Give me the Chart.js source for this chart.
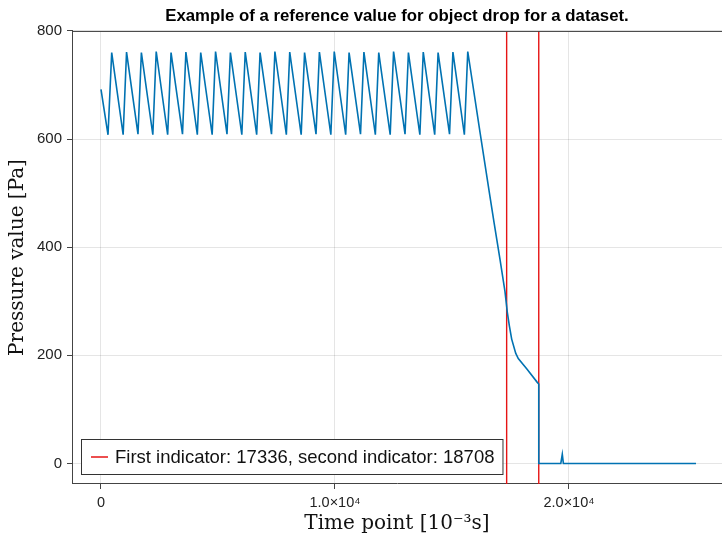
<!DOCTYPE html>
<html>
<head>
<meta charset="utf-8">
<script src="https://cdn.jsdelivr.net/npm/chart.js@4.4.1/dist/chart.umd.min.js"></script>
<style>
  html, body { margin: 0; padding: 0; background: #fff; }
  #wrap { width: 722px; height: 537px; }
</style>
</head>
<body>
<div id="wrap"><canvas id="chart" width="722" height="537"></canvas></div>
<script>
// time points [10^-3 s] and pressure values [Pa]
const timePoints = [
  0, 300, 458, 947, 1092, 1581, 1726, 2215, 2360, 2849, 2994, 3483, 3628,
  4117, 4262, 4751, 4896, 5385, 5530, 6019, 6164, 6653, 6798, 7287, 7432,
  7921, 8066, 8555, 8700, 9189, 9334, 9823, 9968, 10457, 10602, 11091, 11236,
  11725, 11870, 12359, 12504, 12993, 13138, 13627, 13772, 14261, 14406,
  14895, 15040, 15529, 15674,
  16200, 16600, 16800, 17050, 17265, 17363, 17450, 17551, 17722, 17833,
  18192, 18645, 18708, 18709, 19650, 19714, 19760, 25427
];
const pressure = [
  692, 608, 760, 608, 761, 609, 760, 608, 762, 608, 760, 609, 761,
  608, 760, 608, 762, 609, 760, 608, 761, 608, 760, 609, 762,
  608, 761, 608, 760, 609, 761, 608, 762, 608, 760, 609, 761,
  608, 760, 608, 762, 609, 760, 608, 761, 608, 760,
  609, 761, 608, 762,
  612, 500, 445, 378, 318, 280, 255, 230, 204, 194,
  175, 150, 147, 0, 0, 17, 0, 0
];
const firstIndicator = 17336;
const secondIndicator = 18708;
const xTicks = [0, 10000, 20000];
const xTickLabels = ['0', '1.0×10⁴', '2.0×10⁴'];
const yTicks = [0, 200, 400, 600, 800];
const xRange = [-1239, 26539];
const yRange = [-38, 800];

const legendText = `First indicator: ${firstIndicator}, second indicator: ${secondIndicator}`;

const series = timePoints.map((t, i) => ({ x: t, y: pressure[i] }));
const vline = (v) => [{ x: v, y: yRange[0] }, { x: v, y: yRange[1] }];

const framePlugin = {
  id: 'frame',
  afterDraw(chart) {
    const { ctx, chartArea: a } = chart;
    ctx.save();
    ctx.strokeStyle = '#444';
    ctx.lineWidth = 1;
    ctx.beginPath();
    ctx.moveTo(a.left, a.top + 0.5);
    ctx.lineTo(a.right, a.top + 0.5);
    ctx.stroke();

    // legend box, lower left
    ctx.font = '18.5px "Liberation Sans", Arial, sans-serif';
    const tw = ctx.measureText(legendText).width;
    const x0 = a.left + 9, y1 = a.bottom - 10;
    const h = 35, w = tw + 42;
    const y0 = y1 - h;
    ctx.fillStyle = '#fff';
    ctx.fillRect(x0, y0, w, h);
    ctx.strokeStyle = '#333';
    ctx.strokeRect(x0 + 0.5, y0 + 0.5, w, h);
    ctx.strokeStyle = 'rgb(230,20,20)';
    ctx.lineWidth = 1.5;
    ctx.beginPath();
    ctx.moveTo(x0 + 10, y0 + h / 2 + 0.5);
    ctx.lineTo(x0 + 27, y0 + h / 2 + 0.5);
    ctx.stroke();
    ctx.fillStyle = '#111';
    ctx.textBaseline = 'middle';
    ctx.fillText(legendText, x0 + 34, y0 + h / 2 + 1);
    ctx.restore();
  }
};

new Chart(document.getElementById('chart'), {
  type: 'line',
  data: {
    datasets: [
      {
        data: series,
        borderColor: 'rgb(0,114,178)',
        borderWidth: 1.6,
        pointRadius: 0,
        tension: 0,
      },
      {
        data: vline(firstIndicator),
        borderColor: 'rgb(230,20,20)',
        borderWidth: 1.4,
        pointRadius: 0,
      },
      {
        data: vline(secondIndicator),
        borderColor: 'rgb(230,20,20)',
        borderWidth: 1.4,
        pointRadius: 0,
      },
    ],
  },
  options: {
    responsive: false,
    animation: false,
    layout: { padding: 0 },
    plugins: {
      legend: { display: false },
      tooltip: { enabled: false },
      title: {
        display: true,
        fullSize: false,
        text: 'Example of a reference value for object drop for a dataset.',
        color: '#000',
        font: { family: '"Liberation Sans", Arial, sans-serif', size: 16.8, weight: 'bold' },
        padding: { top: 6, bottom: 4.8 },
      },
    },
    scales: {
      x: {
        type: 'linear',
        min: xRange[0],
        max: xRange[1],
        afterBuildTicks: (s) => { s.ticks = xTicks.map((v) => ({ value: v })); },
        afterFit: (s) => { s.height = 53; },
        ticks: {
          callback: (v) => xTickLabels[xTicks.indexOf(v)],
          color: '#222',
          font: { family: '"Liberation Sans", Arial, sans-serif', size: 14.5 },
          padding: 5,
          maxRotation: 0,
        },
        grid: { color: 'rgba(0,0,0,0.1)', tickColor: '#444', tickLength: 5 },
        border: { color: '#444', width: 1 },
        title: {
          display: true,
          text: 'Time point [10⁻³s]',
          color: '#111',
          font: { family: '"DejaVu Serif", "Liberation Serif", serif', size: 20 },
          padding: { top: 0, bottom: 1 },
        },
      },
      y: {
        type: 'linear',
        min: yRange[0],
        max: yRange[1],
        afterBuildTicks: (s) => { s.ticks = yTicks.map((v) => ({ value: v })); },
        afterFit: (s) => { s.width = 72; },
        ticks: {
          color: '#222',
          font: { family: '"Liberation Sans", Arial, sans-serif', size: 15 },
          padding: 5,
        },
        grid: { color: 'rgba(0,0,0,0.1)', tickColor: '#444', tickLength: 5 },
        border: { color: '#444', width: 1 },
        title: {
          display: true,
          text: 'Pressure value [Pa]',
          color: '#111',
          font: { family: '"DejaVu Serif", "Liberation Serif", serif', size: 20 },
          padding: { top: 6, bottom: 0 },
        },
      },
    },
  },
  plugins: [framePlugin],
});
</script>
</body>
</html>
